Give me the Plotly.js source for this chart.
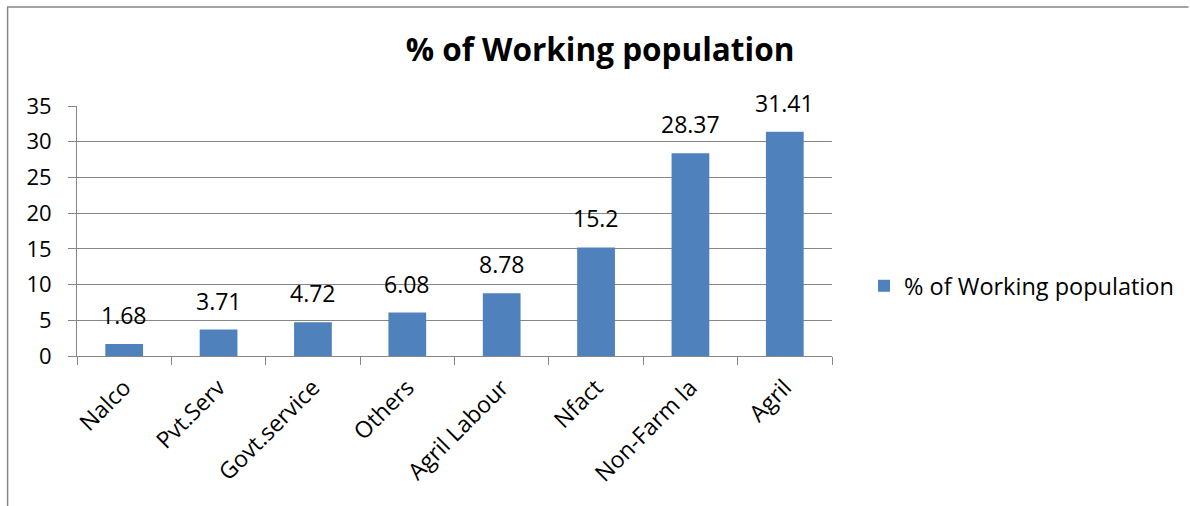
<!DOCTYPE html>
<html>
<head>
<meta charset="utf-8">
<script src="https://cdn.plot.ly/plotly-3.0.1.min.js"></script>
<style>
html,body{margin:0;padding:0;background:#fff;}
#chart{width:1190px;height:506px;}
</style>
</head>
<body>
<div id="chart"></div>
<script>
const categories = ["Nalco","Pvt.Serv","Govt.service","Others","Agril Labour","Nfact","Non-Farm la","Agril"];
const values = [1.68, 3.71, 4.72, 6.08, 8.78, 15.2, 28.37, 31.41];
const valueLabels = ["1.68","3.71","4.72","6.08","8.78","15.2","28.37","31.41"];
const yTicks = [0,5,10,15,20,25,30,35];
const seriesName = "% of Working population";

const W = 1190, H = 506;
const m = {l:77, r:357, t:106, b:150};
const pw = W - m.l - m.r, ph = H - m.t - m.b;
const px = x => (x - m.l) / pw;
const py = y => (H - m.b - y) / ph;

const font = "'Open Sans', Lato, 'Noto Sans', sans-serif";

const trace = {
  type: "bar",
  x: categories,
  y: values,
  name: seriesName,
  width: 0.4,
  marker: {color: "#4F81BD"},
  hoverinfo: "none"
};

const annotations = categories.map((c, i) => ({
  x: c, y: values[i], xref: "x", yref: "y",
  text: valueLabels[i], showarrow: false,
  xanchor: "center", yanchor: "bottom", yshift: 11,
  font: {family: font, size: 23, color: "#000"}
}));

const layout = {
  width: W, height: H,
  margin: m,
  paper_bgcolor: "#fff",
  plot_bgcolor: "#fff",
  title: {text: "<b>% of Working population</b>", font: {family: font, size: 31.5, color: "#000"}, x: 600/W, xanchor: "center", y: 1 - 50/H, yanchor: "middle"},
  showlegend: true,
  legend: {x: px(864), y: py(286), xanchor: "left", yanchor: "middle", font: {family: font, size: 23.5, color: "#000"}, itemwidth: 30, bgcolor: "rgba(0,0,0,0)"},
  xaxis: {
    type: "category",
    tickangle: -45,
    tickson: "boundaries",
    ticks: "outside", ticklen: 8, tickcolor: "#868686", tickwidth: 1,
    showline: true, linecolor: "#868686", linewidth: 1,
    showgrid: false,
    ticklabelstandoff: 8,
    tickfont: {family: font, size: 23, color: "#000"},
    range: [-0.5, 7.5]
  },
  yaxis: {
    range: [0, 35],
    tickvals: yTicks,
    ticktext: yTicks.map(String),
    ticks: "outside", ticklen: 8, tickcolor: "#868686",
    showline: true, linecolor: "#868686", linewidth: 1,
    showgrid: true, gridcolor: "#868686", gridwidth: 1,
    zeroline: false,
    ticklabelstandoff: 12,
    tickfont: {family: font, size: 22, color: "#000"}
  },
  annotations: annotations,
  shapes: [
    {type: "line", xref: "paper", yref: "paper", x0: px(7.5), x1: px(7.5), y0: py(7), y1: py(506), line: {color: "#868686", width: 1.5}},
    {type: "line", xref: "paper", yref: "paper", x0: px(7), x1: px(1190), y0: py(7), y1: py(7), line: {color: "#868686", width: 1.5}}
  ]
};

Plotly.newPlot("chart", [trace], layout, {displayModeBar: false, staticPlot: true});
</script>
</body>
</html>
